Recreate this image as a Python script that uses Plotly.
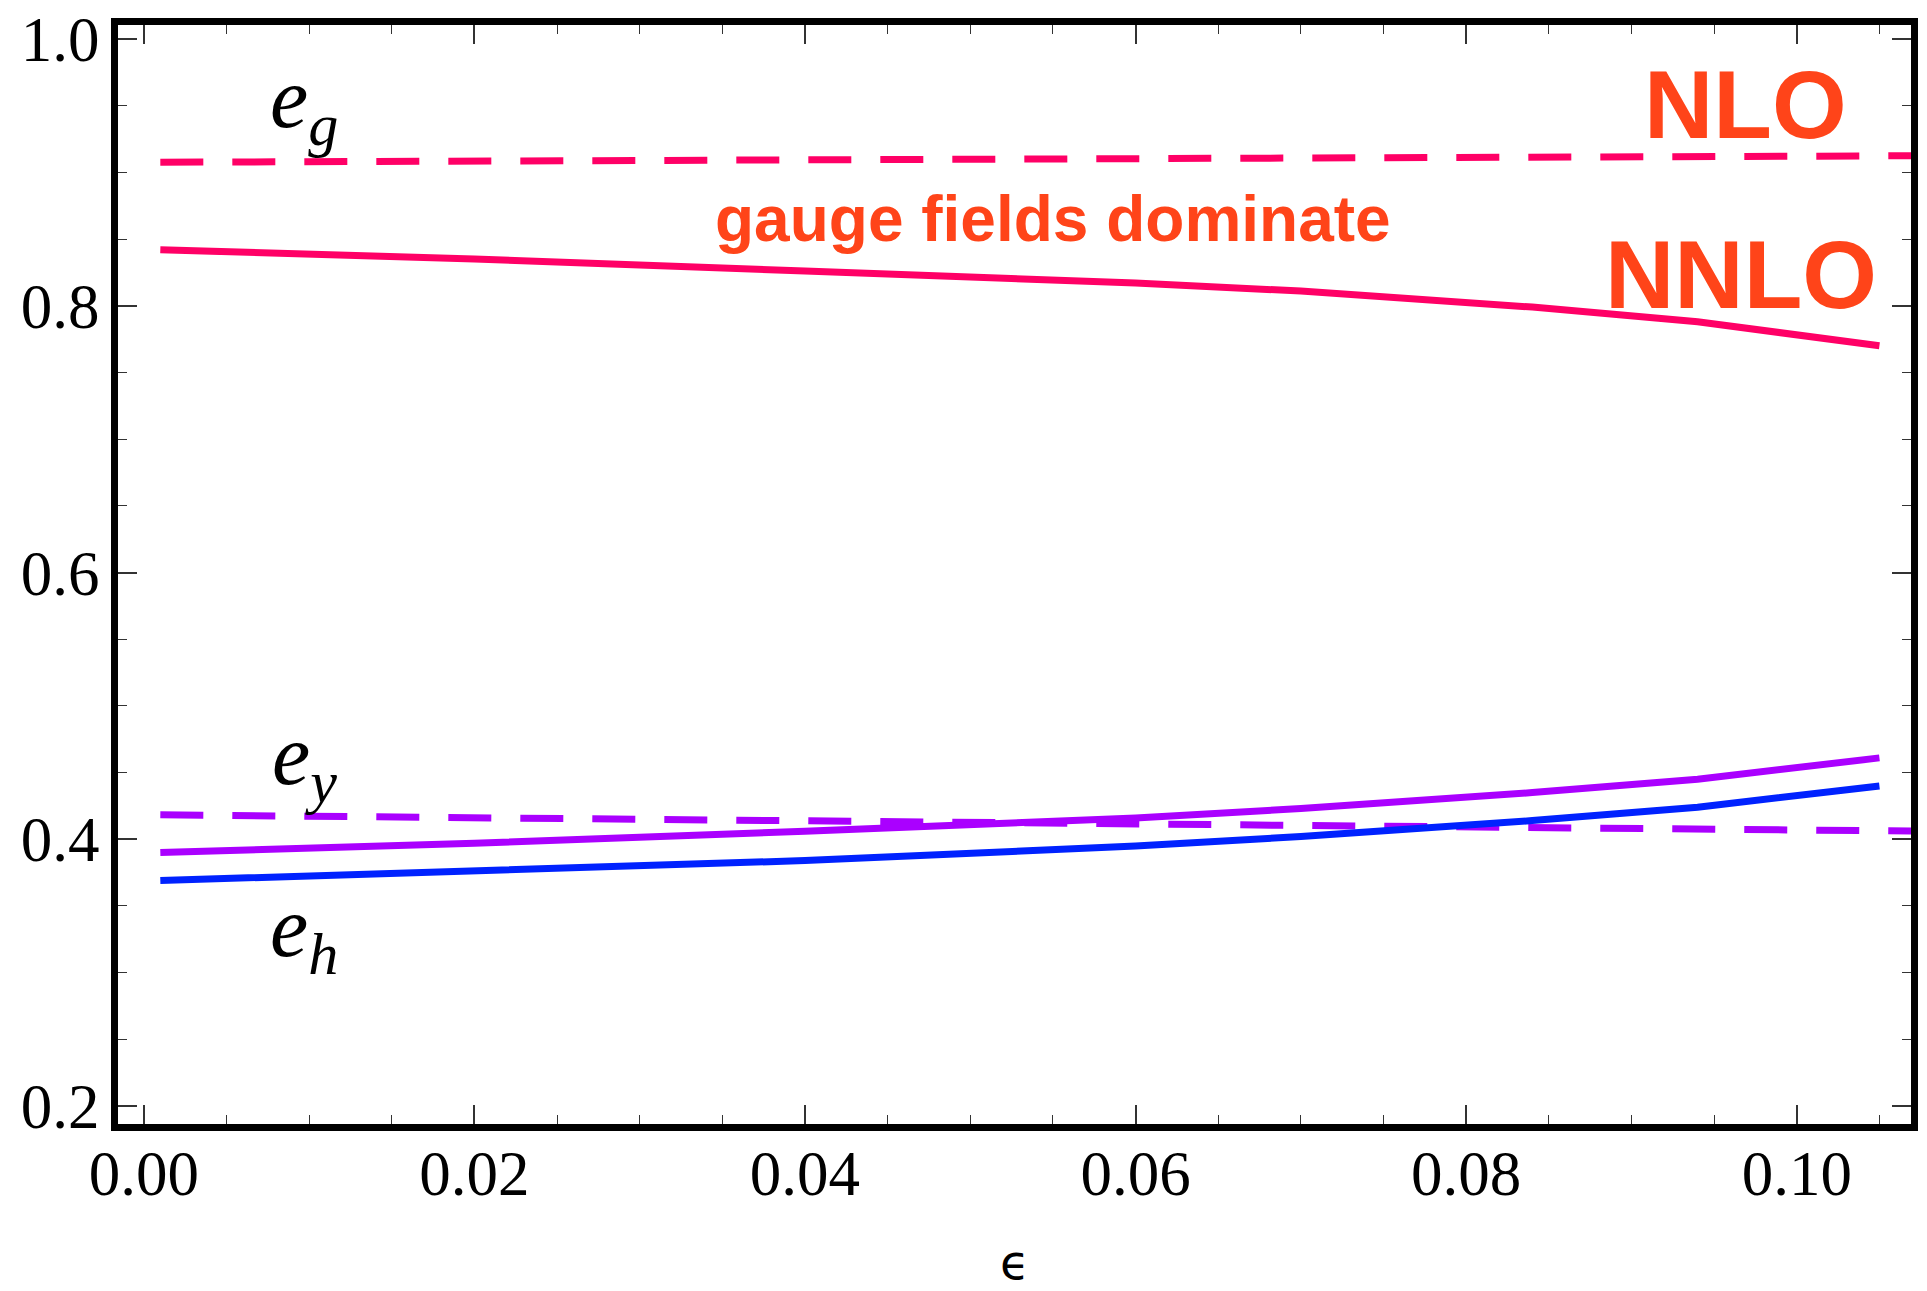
import plotly.graph_objects as go

# ---- data ----
eps = [0.001, 0.02, 0.04, 0.06, 0.07, 0.084, 0.094, 0.105]
eg_nnlo = [0.842, 0.835, 0.826, 0.817, 0.811, 0.799, 0.788, 0.770]
ey_nnlo = [0.390, 0.397, 0.406, 0.416, 0.423, 0.435, 0.445, 0.461]
eh_nnlo = [0.369, 0.376, 0.384, 0.395, 0.402, 0.414, 0.424, 0.440]

eps_nlo = [0.001, 0.108]
eg_nlo = [0.9076, 0.9125]
ey_nlo = [0.4183, 0.4060]

x_ticks = [0.00, 0.02, 0.04, 0.06, 0.08, 0.10]
x_ticklabels = ["0.00", "0.02", "0.04", "0.06", "0.08", "0.10"]
y_ticks = [0.2, 0.4, 0.6, 0.8, 1.0]
y_ticklabels = ["0.2", "0.4", "0.6", "0.8", "1.0"]

PINK = "#FF0066"
PURPLE = "#AA00FF"
BLUE = "#0022FF"
ORANGE = "#FF4419"
DASH = "43px,29px"
LW = 7

fig = go.Figure()
fig.add_trace(go.Scatter(x=eps_nlo, y=eg_nlo, mode="lines",
                         line=dict(color=PINK, width=LW, dash=DASH), name="e_g NLO"))
fig.add_trace(go.Scatter(x=eps, y=eg_nnlo, mode="lines",
                         line=dict(color=PINK, width=LW), name="e_g NNLO"))
fig.add_trace(go.Scatter(x=eps_nlo, y=ey_nlo, mode="lines",
                         line=dict(color=PURPLE, width=LW, dash=DASH), name="e_y NLO"))
fig.add_trace(go.Scatter(x=eps, y=ey_nnlo, mode="lines",
                         line=dict(color=PURPLE, width=LW), name="e_y NNLO"))
fig.add_trace(go.Scatter(x=eps, y=eh_nnlo, mode="lines",
                         line=dict(color=BLUE, width=LW), name="e_h NNLO"))

serif = "Liberation Serif"
sans = "Liberation Sans"

def label(txt, x, y):
    fig.add_annotation(x=x, y=y, xref="x", yref="y", text=txt, showarrow=False,
                       font=dict(family=serif, size=86, color="black"),
                       xanchor="center", yanchor="middle")

label("<i>e</i><sub><i>g</i></sub>", 0.0097, 0.951)
label("<i>e</i><sub><i>y</i></sub>", 0.0097, 0.459)
label("<i>e</i><sub><i>h</i></sub>", 0.0097, 0.330)

fig.add_annotation(x=0.055, y=0.865, xref="x", yref="y", text="<b>gauge fields dominate</b>",
                   showarrow=False, font=dict(family=sans, size=64, color=ORANGE),
                   xanchor="center", yanchor="middle")
fig.add_annotation(x=0.0969, y=0.951, xref="x", yref="y", text="<b>NLO</b>",
                   showarrow=False, font=dict(family=sans, size=96, color=ORANGE),
                   xanchor="center", yanchor="middle")
fig.add_annotation(x=0.0966, y=0.8238, xref="x", yref="y", text="<b>NNLO</b>",
                   showarrow=False, font=dict(family=sans, size=96, color=ORANGE),
                   xanchor="center", yanchor="middle")

# axis title (epsilon) placed below the tick labels
fig.add_annotation(x=0.5003, y=-0.1256, xref="paper", yref="paper", text="ϵ",
                   showarrow=False, font=dict(family="DejaVu Sans", size=48, color="black"),
                   xanchor="center", yanchor="middle")

axis_common = dict(showgrid=False, zeroline=False, showline=True, linecolor="black",
                   linewidth=7, mirror="allticks", ticks="inside", tickcolor="#333333",
                   tickwidth=1.5, ticklen=19, automargin=False,
                   tickfont=dict(family=serif, size=63, color="black"))

fig.update_xaxes(range=[-0.00156, 0.10691], tickvals=x_ticks, ticktext=x_ticklabels,
                 minor=dict(dtick=0.005, ticks="inside", ticklen=9, tickcolor="#333333", tickwidth=1.2),
                 ticklabelstandoff=-12,
                 **axis_common)
fig.update_yaxes(range=[0.1865, 1.0105], tickvals=y_ticks, ticktext=y_ticklabels,
                 minor=dict(dtick=0.05, ticks="inside", ticklen=9, tickcolor="#333333", tickwidth=1.2),
                 ticklabelstandoff=-1,
                 **axis_common)

fig.update_layout(width=1927, height=1291, showlegend=False,
                  paper_bgcolor="white", plot_bgcolor="white",
                  margin=dict(l=118, r=16, t=25, b=167))

fig.write_html("out.html")
